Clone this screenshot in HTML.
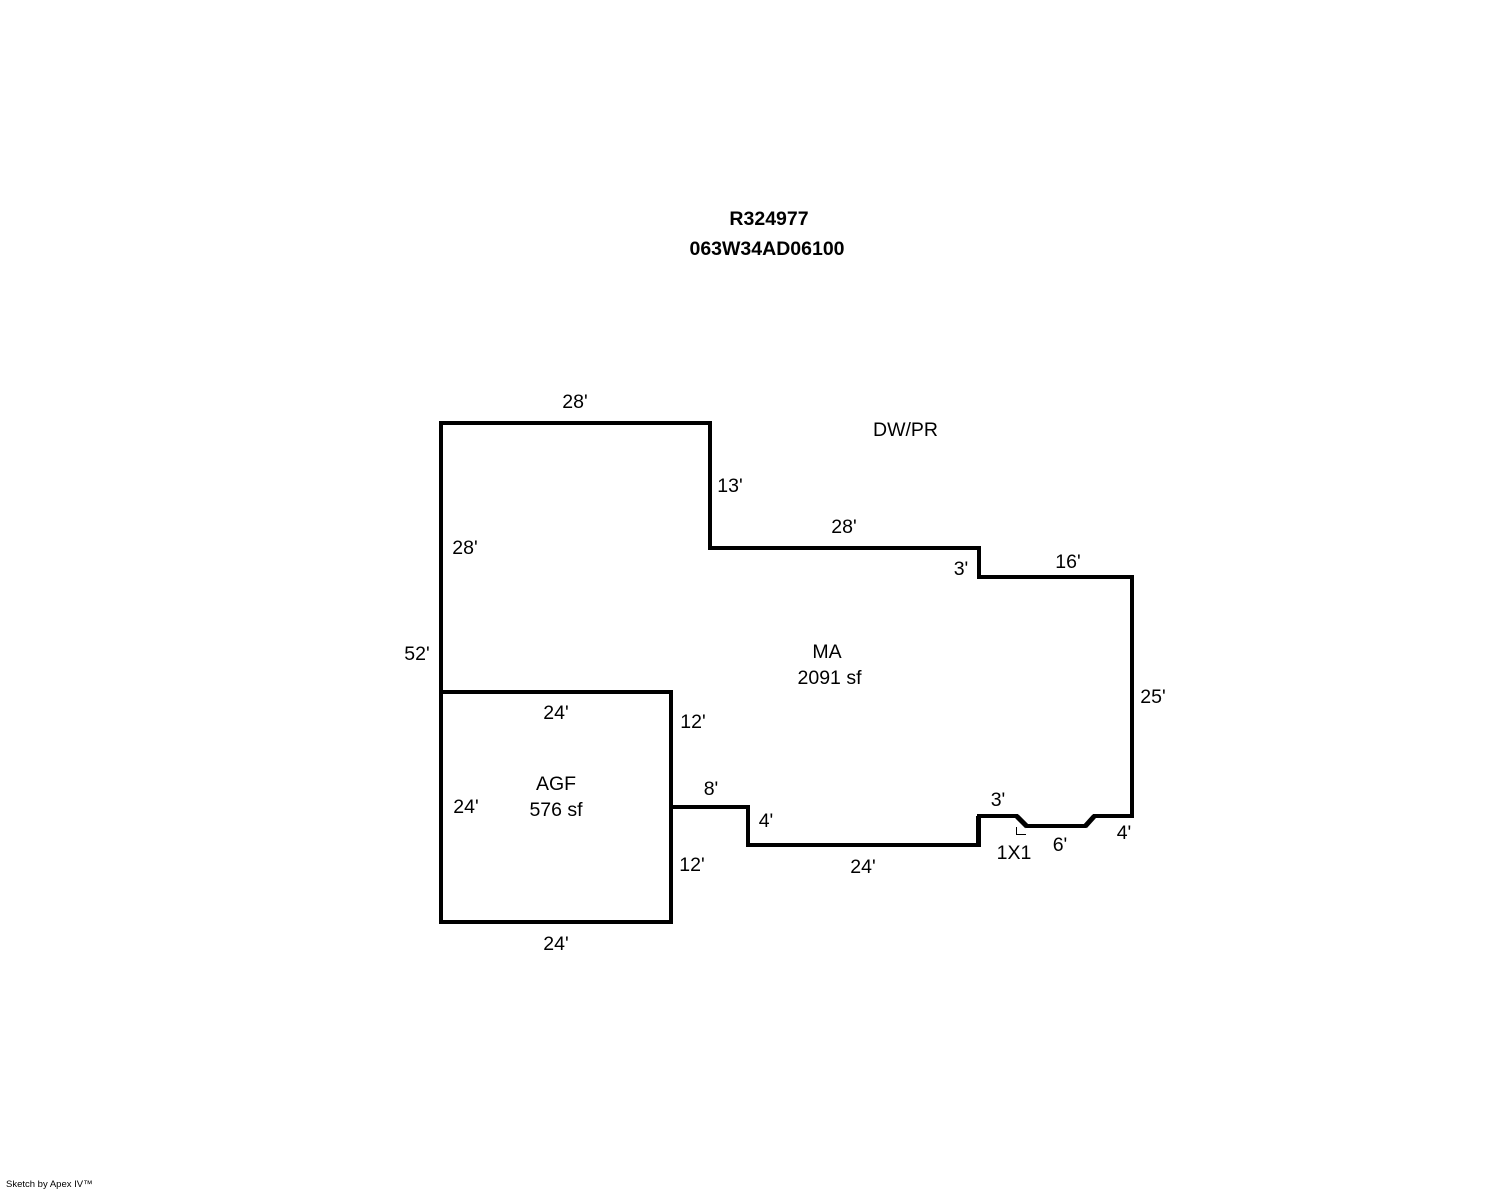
<!DOCTYPE html>
<html><head><meta charset="utf-8"><style>
html,body{margin:0;padding:0;background:#fff;width:1488px;height:1190px;overflow:hidden}
svg{display:block}
text{font-family:"Liberation Sans",sans-serif;font-size:19.5px;fill:#000;text-anchor:middle}
.b{font-weight:bold;font-size:19.5px}
.s{font-size:9.5px;text-anchor:start}
</style></head><body>
<svg width="1488" height="1190" viewBox="0 0 1488 1190" xmlns="http://www.w3.org/2000/svg">
<rect width="1488" height="1190" fill="#fff"/>
<g fill="none" stroke="#000" stroke-width="4" stroke-linejoin="miter">
<path d="M441 692V423H710V548H979V577H1132V816H1094L1085 826H1027L1017 816H979V845H748V807H671"/>
<path d="M441 692H671V922H441Z"/>
<path d="M978.500 816V845" stroke-width="5"/>
<path d="M1017 816.500L1027 826.500M1094 816.500L1085 826.500" stroke-width="5"/>
</g>
<path d="M1016.500 827V834.500H1026" fill="none" stroke="#000" stroke-width="1"/>
<text class="b" x="769" y="225">R324977</text>
<text class="b" x="767" y="255">063W34AD06100</text>
<text x="575" y="408">28'</text>
<text x="905.500" y="436">DW/PR</text>
<text x="730" y="492">13'</text>
<text x="844" y="533">28'</text>
<text x="465" y="554">28'</text>
<text x="961" y="575">3'</text>
<text x="1068" y="568">16'</text>
<text x="417" y="660">52'</text>
<text x="827" y="658">MA</text>
<text x="829.500" y="684">2091 sf</text>
<text x="1153" y="703">25'</text>
<text x="556" y="719">24'</text>
<text x="693" y="728">12'</text>
<text x="556" y="790">AGF</text>
<text x="556" y="816">576 sf</text>
<text x="711" y="795">8'</text>
<text x="998" y="806">3'</text>
<text x="466" y="813">24'</text>
<text x="766" y="827">4'</text>
<text x="1124" y="839">4'</text>
<text x="1060" y="851">6'</text>
<text x="1014" y="859">1X1</text>
<text x="692" y="871">12'</text>
<text x="863" y="873">24'</text>
<text x="556" y="950">24'</text>
<text class="s" x="6" y="1187">Sketch by Apex IV™</text>
</svg>
</body></html>
